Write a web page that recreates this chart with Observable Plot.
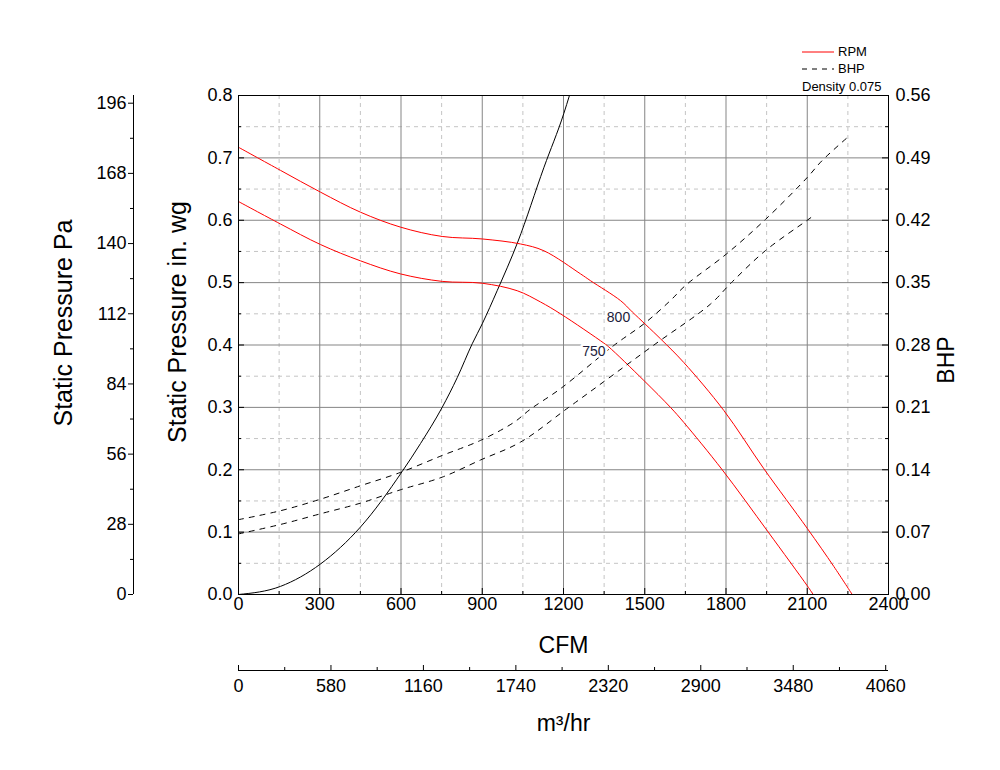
<!DOCTYPE html>
<html>
<head>
<meta charset="utf-8">
<script src="https://cdn.jsdelivr.net/npm/d3@7"></script>
<script src="https://cdn.jsdelivr.net/npm/@observablehq/plot@0.6"></script>
<style>
  body { margin: 0; background: #fff; font-family: "Liberation Sans", Arial, sans-serif; }
  #wrap { position: relative; width: 1000px; height: 770px; }
  #legend { position: absolute; left: 802px; top: 43px; font-size: 13px; color: #000; }
  #legend .row { display: flex; align-items: center; height: 17px; }
  #legend .row svg { margin-right: 4px; }
  #legend .dens { height: 20px; line-height: 20px; }
</style>
</head>
<body>
<div id="wrap">
  <div id="chart"></div>
  <div id="legend">
    <div class="row"><svg width="32" height="4"><line x1="0" y1="2" x2="32" y2="2" stroke="#ff0000" stroke-width="1"/></svg><span>RPM</span></div>
    <div class="row"><svg width="32" height="4"><line x1="0" y1="2" x2="32" y2="2" stroke="#000" stroke-width="1" stroke-dasharray="5,5"/></svg><span>BHP</span></div>
    <div class="dens">Density 0.075</div>
  </div>
</div>
<script>
// ---- tick values ----
const cfmTicks = [0, 300, 600, 900, 1200, 1500, 1800, 2100, 2400];
const cfmMinor = [150, 450, 750, 1050, 1350, 1650, 1950, 2250];
const inwgTicks = [0, 0.1, 0.2, 0.3, 0.4, 0.5, 0.6, 0.7, 0.8];
const inwgMinor = [0.05, 0.15, 0.25, 0.35, 0.45, 0.55, 0.65, 0.75];
const paTicks = [0, 28, 56, 84, 112, 140, 168, 196];
const paMinor = [14, 42, 70, 98, 126, 154, 182];
const bhpTicks = [0, 0.07, 0.14, 0.21, 0.28, 0.35, 0.42, 0.49, 0.56];
const bhpMinor = [0.035, 0.105, 0.175, 0.245, 0.315, 0.385, 0.455, 0.525];
const m3Ticks = [0, 580, 1160, 1740, 2320, 2900, 3480, 4060];
const m3Minor = [290, 870, 1450, 2030, 2610, 3190, 3770];

// ---- unit conversions ----
const PA_PER_INWG = 248.84;
const M3H_PER_CFM = 1.69901;
const BHP_PER_INWG = 0.7; // 0.56 BHP at 0.8 in. wg

// ---- series ----
const rpm800Cfm = [0, 155, 303, 450, 598, 752, 900, 1041, 1128, 1263, 1300, 1411, 1454, 1558, 1644, 1792, 1940, 2100, 2198, 2266];
const rpm800Sp  = [0.717, 0.680, 0.645, 0.613, 0.589, 0.574, 0.570, 0.562, 0.551, 0.514, 0.503, 0.471, 0.453, 0.410, 0.372, 0.295, 0.2015, 0.106, 0.045, 0];

const rpm750Cfm = [0, 155, 303, 450, 598, 752, 900, 1029, 1115, 1189, 1349, 1367, 1497, 1595, 1644, 1786, 1956, 2100, 2122];
const rpm750Sp  = [0.630, 0.594, 0.561, 0.535, 0.514, 0.502, 0.499, 0.487, 0.469, 0.450, 0.403, 0.397, 0.343, 0.300, 0.276, 0.200, 0.100, 0.014, 0];

const sysCfm = [0, 155, 303, 450, 604, 672, 752, 808, 863, 900, 955, 1031, 1128, 1201, 1222];
const sysSp  = [0, 0.013, 0.049, 0.108, 0.197, 0.242, 0.300, 0.348, 0.402, 0.434, 0.487, 0.565, 0.685, 0.771, 0.800];

const bhp800Cfm = [0, 155, 303, 450, 598, 752, 894, 1016, 1078, 1189, 1388, 1500, 1595, 1651, 1801, 1946, 2100, 2155, 2260];
const bhp800    = [0.084, 0.094, 0.107, 0.122, 0.137, 0.156, 0.173, 0.193, 0.208, 0.231, 0.280, 0.3045, 0.330, 0.347, 0.382, 0.421, 0.468, 0.487, 0.516];

const bhp750Cfm = [0, 155, 303, 450, 598, 752, 894, 1041, 1219, 1534, 1743, 1820, 1946, 2100, 2118];
const bhp750    = [0.068, 0.0786, 0.0906, 0.1025, 0.1175, 0.1317, 0.151, 0.171, 0.210, 0.280, 0.326, 0.350, 0.386, 0.420, 0.424];

const curveLabels = ["800", "750"];
const curveLabelCfm = [1403, 1312];
const curveLabelSp = [0.4446, 0.390];

const zip = (xs, ys) => xs.map((x, i) => ({x, y: ys[i]}));

const chart = Plot.plot({
  width: 1000,
  height: 770,
  marginLeft: 238,
  marginRight: 112,
  marginTop: 95,
  marginBottom: 176,
  x: {domain: [0, 2400], axis: null},
  y: {domain: [0, 0.8], axis: null},
  style: {fontFamily: "'Liberation Sans', Arial, sans-serif", fontSize: "18px", background: "white", overflow: "visible"},
  marks: [
    // grid
    Plot.ruleX(cfmMinor, {x: d => d, stroke: "#c4c4c4", strokeDasharray: "4,4"}),
    Plot.ruleY(inwgMinor, {y: d => d, stroke: "#c4c4c4", strokeDasharray: "4,4"}),
    Plot.ruleX(cfmTicks, {x: d => d, stroke: "#858585"}),
    Plot.ruleY(inwgTicks, {y: d => d, stroke: "#858585"}),
    // curves
    Plot.line(zip(sysCfm, sysSp), {x: "x", y: "y", stroke: "black", strokeWidth: 1, curve: "monotone-x"}),
    Plot.line(zip(rpm800Cfm, rpm800Sp), {x: "x", y: "y", stroke: "#ff0000", strokeWidth: 1, curve: "catmull-rom"}),
    Plot.line(zip(rpm750Cfm, rpm750Sp), {x: "x", y: "y", stroke: "#ff0000", strokeWidth: 1, curve: "catmull-rom"}),
    Plot.line(zip(bhp800Cfm, bhp800), {x: "x", y: d => d.y / BHP_PER_INWG, stroke: "black", strokeWidth: 1, strokeDasharray: "5,6", curve: "catmull-rom"}),
    Plot.line(zip(bhp750Cfm, bhp750), {x: "x", y: d => d.y / BHP_PER_INWG, stroke: "black", strokeWidth: 1, strokeDasharray: "5,6", curve: "catmull-rom"}),
    // curve labels
    Plot.text(curveLabels, {x: (d, i) => curveLabelCfm[i], y: (d, i) => curveLabelSp[i], text: d => d,
      fill: "#1c1c3c", stroke: "white", strokeWidth: 5, paintOrder: "stroke", fontSize: 14}),
    Plot.frame({stroke: "black"}),
    // ticks (inward) on main axes
    Plot.ruleX(cfmTicks, {x: d => d, y1: 0, y2: 0, insetTop: -6, stroke: "black"}),
    Plot.ruleX(cfmMinor, {x: d => d, y1: 0, y2: 0, insetTop: -3, stroke: "black"}),
    Plot.ruleY(inwgTicks, {y: d => d, x1: 0, x2: 0, insetRight: -6, stroke: "black"}),
    Plot.ruleY(inwgMinor, {y: d => d, x1: 0, x2: 0, insetRight: -3, stroke: "black"}),
    Plot.ruleY(bhpTicks, {y: d => d / BHP_PER_INWG, x1: 2400, x2: 2400, insetLeft: -6, stroke: "black"}),
    Plot.ruleY(bhpMinor, {y: d => d / BHP_PER_INWG, x1: 2400, x2: 2400, insetLeft: -3, stroke: "black"}),
    // Pa axis (outer left)
    Plot.ruleX([0], {x: d => d, dx: -105, stroke: "black"}),
    Plot.ruleY(paTicks, {y: d => d / PA_PER_INWG, x1: 0, x2: 0, dx: -105, insetLeft: -5, stroke: "black"}),
    Plot.ruleY(paMinor, {y: d => d / PA_PER_INWG, x1: 0, x2: 0, dx: -105, insetLeft: -3, stroke: "black"}),
    // m3/hr axis (lower)
    Plot.ruleY([0], {y: d => d, dy: 76, stroke: "black"}),
    Plot.ruleX(m3Ticks, {x: d => d / M3H_PER_CFM, y1: 0, y2: 0, dy: 76, insetTop: -5, stroke: "black"}),
    Plot.ruleX(m3Minor, {x: d => d / M3H_PER_CFM, y1: 0, y2: 0, dy: 76, insetTop: -3, stroke: "black"}),
    // tick labels
    Plot.text(cfmTicks, {x: d => d, text: d => String(d), frameAnchor: "bottom", lineAnchor: "top", dy: 3, fill: "black"}),
    Plot.text(inwgTicks, {y: d => d, text: d => d.toFixed(1), frameAnchor: "left", textAnchor: "end", dx: -6, fill: "black"}),
    Plot.text(paTicks, {y: d => d / PA_PER_INWG, text: d => String(d), frameAnchor: "left", textAnchor: "end", dx: -112, fill: "black"}),
    Plot.text(bhpTicks, {y: d => d / BHP_PER_INWG, text: d => d.toFixed(2), frameAnchor: "right", textAnchor: "start", dx: 7, fill: "black"}),
    Plot.text(m3Ticks, {x: d => d / M3H_PER_CFM, text: d => String(d), frameAnchor: "bottom", lineAnchor: "top", dy: 85, fill: "black"}),
    // axis titles
    Plot.text(["CFM"], {text: d => d, frameAnchor: "bottom", lineAnchor: "middle", dy: 51, fontSize: 23, fill: "black"}),
    Plot.text(["m³/hr"], {text: d => d, frameAnchor: "bottom", lineAnchor: "middle", dy: 129, fontSize: 23, fill: "black"}),
    Plot.text(["Static Pressure in. wg"], {text: d => d, frameAnchor: "left", textAnchor: "middle", rotate: -90, dx: -61, dy: -23, fontSize: 25, fill: "black"}),
    Plot.text(["Static Pressure Pa"], {text: d => d, frameAnchor: "left", textAnchor: "middle", rotate: -90, dx: -175, dy: -22, fontSize: 25, fill: "black"}),
    Plot.text(["BHP"], {text: d => d, frameAnchor: "right", textAnchor: "middle", rotate: -90, dx: 58, dy: 15, fontSize: 23, fill: "black"})
  ]
});
document.getElementById("chart").appendChild(chart);
</script>
</body>
</html>
